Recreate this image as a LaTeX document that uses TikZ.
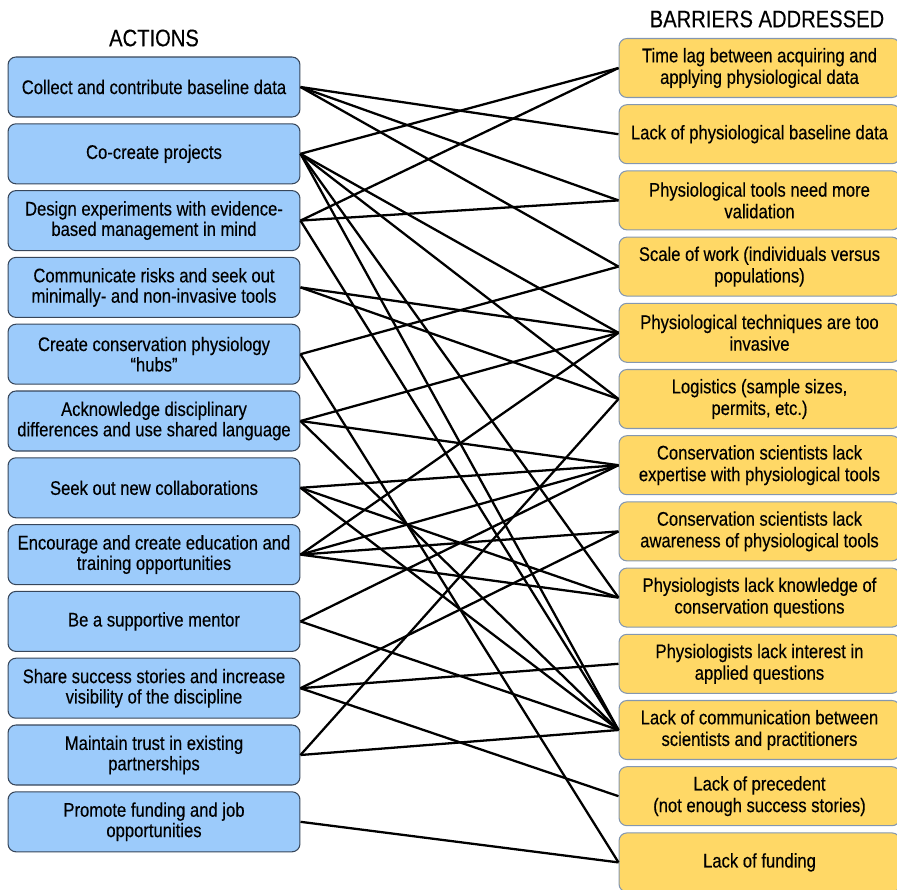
\documentclass[tikz,border=0pt]{standalone}
\usepackage{fontspec}
\setmainfont[FakeStretch=0.845,FakeBold=0.3]{Liberation Sans}
\usepackage{xcolor}
\usepackage{tikz}

\definecolor{actfill}{RGB}{156,203,251}
\definecolor{actdraw}{RGB}{55,70,90}
\definecolor{barfill}{RGB}{255,216,102}
\definecolor{bardraw}{RGB}{132,151,176}

\tikzset{
  actbox/.style={draw=actdraw, fill=actfill, line width=0.6pt, rounded corners=4.5pt,
    minimum width=5.84cm, minimum height=1.2cm, inner sep=0pt, align=center,
    font=\fontsize{11.2}{11.6}\selectfont},
  barbox/.style={draw=bardraw, fill=barfill, line width=0.6pt, rounded corners=4.5pt,
    minimum width=5.62cm, minimum height=1.18cm, inner sep=0pt, align=center,
    font=\fontsize{11.2}{12.3}\selectfont},
  head/.style={font=\fontsize{13.6}{15}\selectfont},
  link/.style={line width=1.3pt, black}
}

\begin{document}
\begin{tikzpicture}[x=0.02cm, y=-0.02cm]

\useasboundingbox (0,0) rectangle (897,890);

% Column titles
\node[head] (acttitle) at (154,38) {ACTIONS};
\node[head] (bartitle) at (767,19) {BARRIERS ADDRESSED};

% Actions (left)
\foreach \t [count=\i] in {
    {Collect and contribute baseline data},
    {Co-create projects},
    {Design experiments with evidence-\\based management in mind},
    {Communicate risks and seek out\\minimally- and non-invasive tools},
    {Create conservation physiology\\``hubs''},
    {Acknowledge disciplinary\\differences and use shared language},
    {Seek out new collaborations},
    {Encourage and create education and\\training opportunities},
    {Be a supportive mentor},
    {Share success stories and increase\\visibility of the discipline},
    {Maintain trust in existing\\partnerships},
    {Promote funding and job\\opportunities}}
    \node[actbox] (L\i) at (154, {87+66.8*(\i-1)}) {\t};

% Barriers (right)
\foreach \t [count=\j] in {
    {Time lag between acquiring and\\applying physiological data},
    {Lack of physiological baseline data},
    {Physiological tools need more\\validation},
    {Scale of work (individuals versus\\populations)},
    {Physiological techniques are too\\invasive},
    {Logistics (sample sizes,\\permits, etc.)},
    {Conservation scientists lack\\expertise with physiological tools},
    {Conservation scientists lack\\awareness of physiological tools},
    {Physiologists lack knowledge of\\conservation questions},
    {Physiologists lack interest in\\applied questions},
    {Lack of communication between\\scientists and practitioners},
    {Lack of precedent\\(not enough success stories)},
    {Lack of funding}}
    \node[barbox] (R\j) at (759.5, {68+66.2*(\j-1)}) {\t};

% Links action -> barrier
\foreach \a/\b in {1/2, 1/3, 1/4,
                   2/1, 2/5, 2/6, 2/9, 2/11,
                   3/1, 3/3, 3/11,
                   4/5, 4/6,
                   5/4, 5/13,
                   6/5, 6/7, 6/11,
                   7/7, 7/9, 7/11,
                   8/5, 8/7, 8/8, 8/9,
                   9/7, 9/11,
                   10/8, 10/10, 10/12,
                   11/6, 11/11,
                   12/13}
    \draw[link] (L\a.east) -- (R\b.west);

\end{tikzpicture}
\end{document}
